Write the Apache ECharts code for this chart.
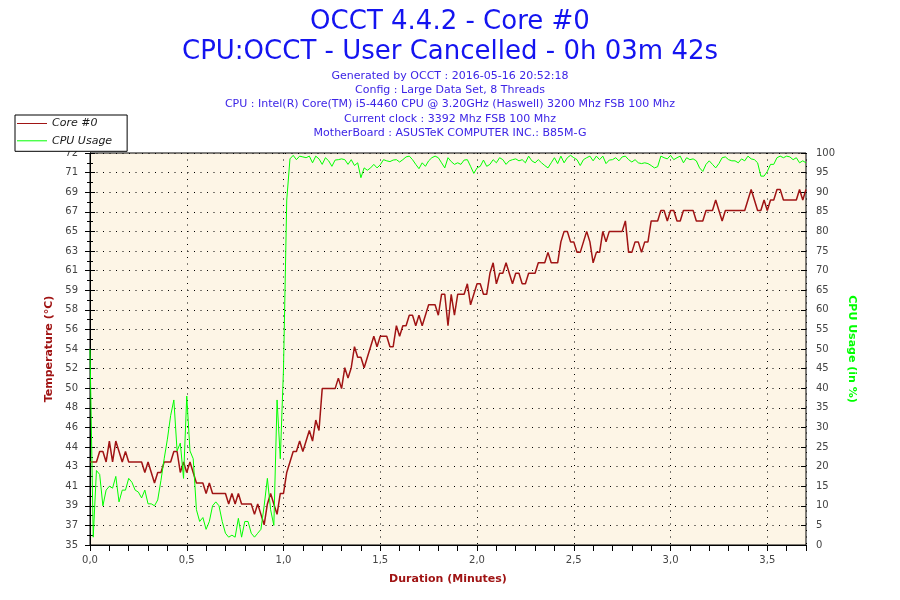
<!DOCTYPE html>
<html>
<head>
<meta charset="utf-8">
<script src="https://cdn.jsdelivr.net/npm/echarts@6/dist/echarts.min.js"></script>
<style>
html,body{margin:0;padding:0;background:#fff;}
#chart{width:900px;height:600px;}
</style>
</head>
<body>
<div id="chart"></div>
<script>
// ---- data (1 sample per second) ----
const SAMPLE_SECONDS = 1;
const coreTemp = [
 43,43,43,44,44,43,45,43,45,44,
 43,44,43,43,43,43,43,42,43,42,
 41,42,42,43,43,43,44,44,42,43,
 42,43,42,41,41,41,40,41,40,40,
 40,40,40,39,40,39,40,39,39,39,
 39,38,39,38,37,39,40,39,38,40,
 40,42,43,44,44,45,44,45,46,45,
 47,46,50,50,50,50,50,51,50,52,
 51,52,54,53,53,52,53,54,55,54,
 55,55,55,54,54,56,55,56,56,57,
 57,56,57,56,57,58,58,58,57,59,
 59,56,59,57,59,59,59,60,58,59,
 60,60,59,59,61,62,60,61,61,62,
 61,60,61,61,60,60,61,61,61,62,
 62,62,63,62,62,62,64,65,65,64,
 64,63,63,64,65,64,62,63,63,65,
 64,65,65,65,65,65,66,63,63,64,
 64,63,64,64,66,66,66,67,67,66,
 67,67,66,66,67,67,67,67,66,66,
 66,67,67,67,68,67,66,67,67,67,
 67,67,67,67,68,69,68,67,67,68,
 67,68,68,69,69,68,68,68,68,68,
 69,68,69
];
const cpuUsage = [
 50,2,19,18,10,14,15,14.5,17.5,11,
 14,14,17,16,14,13.5,12,14,10.5,10.5,
 10,11.5,16.5,22,27,33,37,24,26,17,
 38,24,22,9,6,7,4,6,10,11,
 10,6,3,2,2.5,2,6.8,2,6,6,
 3,2,3,4,10,17,9,5,37,22,
 45,88,98.5,99.4,98.3,99.2,99,98.8,99.2,97.5,
 99.2,98.5,97.1,98.8,98,96.6,98.2,98.3,98.5,98.3,
 97.1,98.3,96.8,97.5,93.7,96.2,95.6,96.2,97.1,96.2,
 97,98.3,98,97.8,98.2,98.3,97.7,98.3,99,99.2,
 98.3,97.1,96,97.5,96.6,98,98.8,99.2,98.8,97.5,
 96.2,98.8,97.8,97.1,97.5,97.1,98.2,98.3,96.6,94.8,
 96.2,96.6,98.2,96.6,97.1,98.3,97.5,98.8,98.3,97.1,
 98,98.3,98.5,98,98.3,97.5,99.2,98,97.5,98.3,
 97.5,96.8,96.2,97.5,98.8,97.3,99.2,97.5,98.8,99.4,
 98.8,98.3,96.8,98.3,98.8,99.2,98,99.2,98.3,99.2,
 97.3,98.2,98.3,98.8,98,99,99.2,98.3,97.7,98.3,
 97.5,97.3,97.5,97.3,96.8,96.2,96.5,99.2,98.8,98.5,
 99.4,98.3,98.8,99.2,97.5,98.8,98.3,98.5,98,96.2,
 95.3,97.1,98,97.1,96.2,97.3,98.8,99,98.3,98,
 98,97.5,98.5,98,99.2,98.5,98.3,97.5,94.1,94.1,
 95.3,97.1,97.1,98.8,99.2,98.8,99.2,99,98.3,98.8,
 97.5,98,97.5
];
const seriesNames = ['Core #0', 'CPU Usage'];
const xTickLabels = ['0,0','0,5','1,0','1,5','2,0','2,5','3,0','3,5'];
const tempTickLabels = ['35','37','39','41','43','44','46','48','50','52','54','56','58','59','61','63','65','67','69','71','72'];
const titleLines = ['OCCT 4.4.2 - Core #0', 'CPU:OCCT - User Cancelled - 0h 03m 42s'];
const infoLines = [
 'Generated by OCCT : 2016-05-16 20:52:18',
 'Config : Large Data Set, 8 Threads',
 'CPU : Intel(R) Core(TM) i5-4460 CPU @ 3.20GHz (Haswell) 3200 Mhz FSB 100 Mhz',
 'Current clock : 3392 Mhz FSB 100 Mhz',
 'MotherBoard : ASUSTeK COMPUTER INC.: B85M-G'
];

// ---- axis scales ----
const TEMP_MIN = 35.08, TEMP_MAX = 72.48, TEMP_STEP = 1.87;
const X_MAX = 3.7;

const FONT = 'DejaVu Sans';
const tempColor = '#A01414';
const cpuColor = '#00FF00';

const tempData = coreTemp.map((v, i) => [i * SAMPLE_SECONDS / 60, v]);
const cpuData = cpuUsage.map((v, i) => [i * SAMPLE_SECONDS / 60, v]);

const dotted = {color: '#000', width: 1, type: [1, 5.5]};
const labelStyle = {color: '#444', fontFamily: FONT, fontSize: 10};

const chart = echarts.init(document.getElementById('chart'), null, {renderer: 'canvas'});
chart.setOption({
  animation: false,
  backgroundColor: '#ffffff',
  title: {
    left: 'center', top: 7, padding: 0, itemGap: 2,
    text: titleLines.join('\n'),
    textStyle: {fontFamily: FONT, fontSize: 26, fontWeight: 'normal', color: '#1414F0', lineHeight: 30},
    subtext: infoLines.join('\n'),
    subtextStyle: {fontFamily: FONT, fontSize: 11, color: '#3C24E6', lineHeight: 14.2}
  },
  legend: {
    data: seriesNames,
    orient: 'vertical',
    left: 15, top: 115,
    padding: [2, 15, 4, 2],
    itemGap: 4.3,
    itemWidth: 30, itemHeight: 1,
    icon: 'rect',
    backgroundColor: '#fff',
    borderColor: '#000', borderWidth: 1,
    borderRadius: 0,
    textStyle: {fontFamily: FONT, fontSize: 11, fontStyle: 'italic', color: '#1a1a1a', lineHeight: 13},
    z: 10
  },
  grid: {
    left: 90, right: 94, top: 153, bottom: 55,
    show: true, backgroundColor: '#FDF5E6', borderColor: '#000', borderWidth: 1,
    outerBoundsMode: 'none', containLabel: false
  },
  xAxis: [
    {
      type: 'value', min: 0, max: X_MAX, interval: 0.5, position: 'bottom',
      name: 'Duration (Minutes)', nameLocation: 'middle', nameGap: 29,
      nameTextStyle: {color: tempColor, fontFamily: FONT, fontSize: 11, fontWeight: 'bold'},
      axisLine: {show: true, lineStyle: {color: '#000', width: 1}},
      axisTick: {show: false},
      axisLabel: {
        ...labelStyle, margin: 10, showMaxLabel: true, showMinLabel: true,
        formatter: v => {
          const k = Math.round(v / 0.5);
          if (Math.abs(v - k * 0.5) > 1e-6) return '';
          return xTickLabels[k] !== undefined ? xTickLabels[k] : '';
        }
      },
      splitLine: {show: true, lineStyle: dotted}
    },
    {
      type: 'value', min: 0, max: X_MAX, interval: 0.1, position: 'bottom',
      axisLine: {show: false},
      axisTick: {show: true, inside: false, length: 6, lineStyle: {color: '#000', width: 1}},
      axisLabel: {show: false},
      splitLine: {show: false}
    }
  ],
  yAxis: [
    {
      type: 'value', min: TEMP_MIN, max: TEMP_MAX, interval: TEMP_STEP, position: 'left',
      name: 'Temperature (°C)', nameLocation: 'middle', nameRotate: 90, nameGap: 32,
      nameTextStyle: {color: tempColor, fontFamily: FONT, fontSize: 11, fontWeight: 'bold'},
      axisLine: {show: true, lineStyle: {color: '#000', width: 1}},
      axisTick: {show: true, inside: false, length: 5, lineStyle: {color: '#000', width: 1}},
      minorTick: {show: true, splitNumber: 2, length: 3, lineStyle: {color: '#000', width: 1}},
      axisLabel: {
        ...labelStyle, margin: 12, showMaxLabel: true, showMinLabel: true,
        formatter: v => {
          const k = Math.round((v - TEMP_MIN) / TEMP_STEP);
          return tempTickLabels[k] !== undefined ? tempTickLabels[k] : '';
        }
      },
      splitLine: {show: true, lineStyle: dotted}
    },
    {
      type: 'value', min: 0, max: 100, interval: 5, position: 'right',
      name: 'CPU Usage (in %)', nameLocation: 'middle', nameRotate: -90, nameGap: 32,
      nameTextStyle: {color: cpuColor, fontFamily: FONT, fontSize: 11, fontWeight: 'bold'},
      axisLine: {show: true, lineStyle: {color: '#000', width: 1}},
      axisTick: {show: true, inside: false, length: 5, lineStyle: {color: '#000', width: 1}},
      minorTick: {show: true, splitNumber: 2, length: 3, lineStyle: {color: '#000', width: 1}},
      axisLabel: {...labelStyle, margin: 10, showMaxLabel: true, showMinLabel: true},
      splitLine: {show: false}
    },
    {
      type: 'value', min: TEMP_MIN, max: TEMP_MAX, interval: TEMP_STEP, position: 'left',
      axisLine: {show: false},
      axisTick: {show: true, inside: true, length: 5, lineStyle: {color: '#000', width: 1}},
      axisLabel: {show: false}, splitLine: {show: false}
    },
    {
      type: 'value', min: 0, max: 100, interval: 5, position: 'right',
      axisLine: {show: false},
      axisTick: {show: true, inside: true, length: 5, lineStyle: {color: '#000', width: 1}},
      axisLabel: {show: false}, splitLine: {show: false}
    }
  ],
  series: [
    {
      name: seriesNames[0], type: 'line', xAxisIndex: 0, yAxisIndex: 0,
      data: tempData, showSymbol: false, symbol: 'none',
      lineStyle: {color: tempColor, width: 1.5}, itemStyle: {color: tempColor},
      emphasis: {disabled: true}, z: 3
    },
    {
      name: seriesNames[1], type: 'line', xAxisIndex: 0, yAxisIndex: 1,
      data: cpuData, showSymbol: false, symbol: 'none',
      lineStyle: {color: cpuColor, width: 1}, itemStyle: {color: cpuColor},
      emphasis: {disabled: true}, z: 3
    }
  ]
});
</script>
</body>
</html>
